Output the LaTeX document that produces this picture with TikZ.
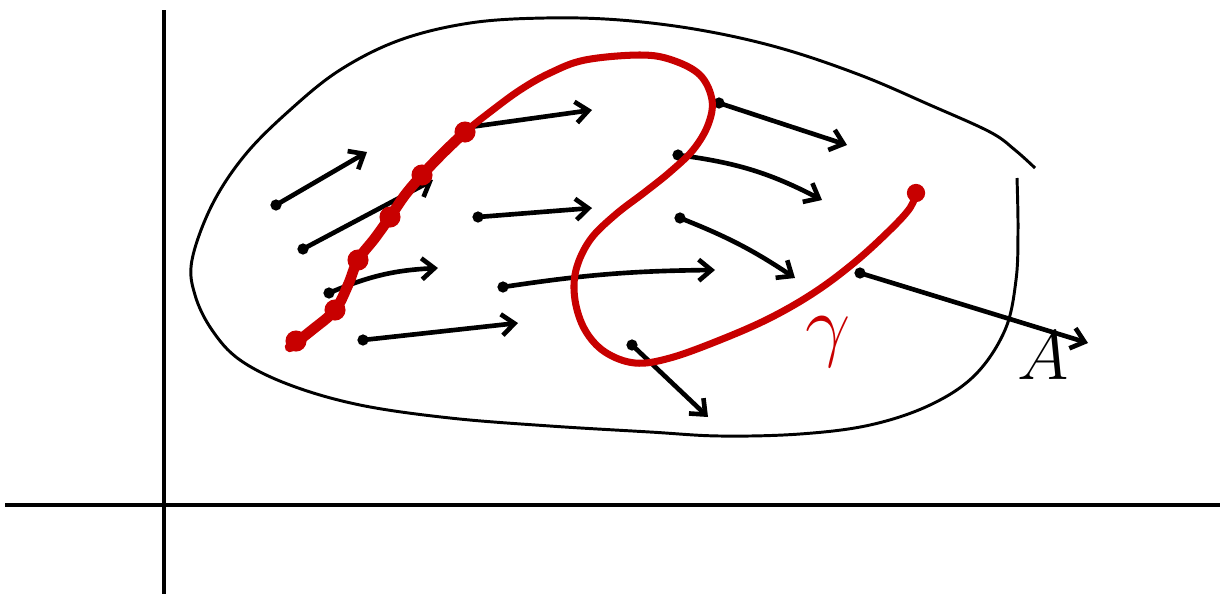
\documentclass[tikz,border=0pt]{standalone}
\usetikzlibrary{arrows.meta}
\definecolor{gred}{RGB}{200,0,0}
\begin{document}
\begin{tikzpicture}[x=0.025cm, y=-0.025cm,
  axis/.style={line width=2.3pt},
  tick/.style={line width=0.9pt},
  region/.style={line width=2.1pt, line join=round},
  vec/.style={line width=3.3pt, line cap=round, -{Straight Barb[length=9pt, width=15pt, line width=3.3pt]}},
  tail/.style={circle, fill, inner sep=0pt, minimum size=8pt},
  path/.style={draw=gred, line width=5pt, line cap=round, line join=round},
  bead/.style={circle, fill=gred, inner sep=0pt, minimum size=15pt},
  lbl/.style={font=\Huge, inner sep=0pt}
]
\useasboundingbox (0,0) rectangle (1220,594);

% axes
\coordinate (xl) at (5,505);
\coordinate (xr) at (1220,505);
\coordinate (yt) at (164,10);
\coordinate (yb) at (164,594);
\draw[axis] (xl) -- (xr);
\draw[axis] (yt) -- (yb);
\foreach \x in {45,85,124,203,242,281,320,360,399,438,478,517,556,596,635,674,714,753,792,832,871,910,950,989,1028,1068,1107,1146,1186}
  \draw[tick] (\x,503) -- (\x,507);
\foreach \y in {34,53,72,91,110,129,148,167,186,205,224,243,262,281,300,319,338,357,376,395,414,433,452,471,490,518,537,556,575}
  \draw[tick] (162,\y) -- (166,\y);

% region A
\draw[region] plot[smooth, tension=0.6] coordinates {(1035,168) (1015,150) (990,132) (930,105) (860,75) (780,48) (700,30) (620,20) (545,18) (470,23) (400,40) (340,70) (290,110) (245,155) (212,205) (192,260) (195,295) (212,330) (240,360) (290,385) (360,405) (450,418) (550,426) (650,432) (720,436) (800,434) (870,425) (930,405) (975,375) (1005,330) (1016,280) (1018,230) (1017,178)};

% vector field
\foreach \n/\tx/\ty/\hx/\hy/\b in {
  1/276/205/367/152/0, 2/303/249/433/180/0, 3/329/293/438/268/10,
  4/363/340/518/323/0, 5/478/217/592/208/0, 6/503/287/715/270/4,
  7/463/128/592/110/0, 8/719/103/847/145/0, 9/678/155/822/200/10,
  10/680/218/795/278/6, 11/632/345/708/417/0, 12/860/273/1088/343/0}
{
  \node[tail] (t\n) at (\tx,\ty) {};
  \coordinate (h\n) at (\hx,\hy);
  \draw[vec] (t\n.center) to[bend left=\b] (h\n);
}

% curve gamma
\draw[path] plot[smooth, tension=0.6] coordinates {(290,347) (312,330) (335,310) (348,285) (358,260) (375,238) (390,217) (405,195) (422,175) (443,153) (465,132) (490,112) (520,90) (550,73) (585,60) (640,55) (672,60) (700,75) (712,100) (708,125) (693,150) (670,172) (645,192) (615,215) (590,240) (576,270) (575,300) (585,330) (605,352) (635,363) (670,358) (720,340) (770,318) (815,292) (855,262) (890,230) (910,208) (916,193)};
\draw[path, line width=7.5pt] plot[smooth, tension=0.6] coordinates {(290,347) (312,330) (335,310) (348,285) (358,260) (375,238) (390,217) (405,195) (422,175) (443,153) (465,132)};
\foreach \n/\gx/\gy in {1/296/341, 2/335/310, 3/358/260, 4/390/217, 5/422/175, 6/465/132}
  \node[bead] (g\n) at (\gx,\gy) {};
\node[bead, minimum size=13pt] (gend) at (916,193) {};

% labels
\node[lbl, text=gred] (gamma) at (828,342) {\scalebox{2.3}{$\gamma$}};
\node[lbl] (lblA) at (1043,356) {\scalebox{2}{$A$}};
\end{tikzpicture}
\end{document}
